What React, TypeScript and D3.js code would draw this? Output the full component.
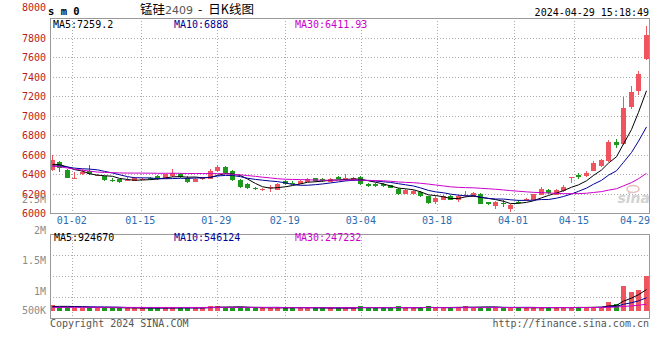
import * as d3 from 'd3';

// 锰硅2409 daily candles, 2023-12-27 .. 2024-04-29 (80 sessions)
const opens = [
  6450, 6530, 6443, 6362, 6410, 6440, 6390, 6380, 6345, 6350,
  6340, 6335, 6350, 6362, 6385, 6358, 6381, 6409, 6368, 6323,
  6355, 6358, 6438, 6478, 6440, 6348, 6300, 6266, 6243, 6262,
  6245, 6333, 6315, 6307, 6327, 6361, 6354, 6328, 6374, 6340,
  6340, 6370, 6307, 6307, 6305, 6290, 6256, 6205, 6200, 6221,
  6177, 6118, 6143, 6180, 6143, 6185, 6170, 6205, 6118, 6075,
  6110, 6045, 6122, 6138, 6140, 6190, 6245, 6190, 6230, 6360,
  6392, 6382, 6440, 6490, 6540, 6735, 6716, 7090, 7260, 7580,
];
const highs = [
  6596, 6540, 6460, 6425, 6460, 6494, 6410, 6385, 6360, 6352,
  6370, 6370, 6365, 6370, 6392, 6410, 6455, 6415, 6380, 6365,
  6370, 6460, 6494, 6485, 6450, 6355, 6310, 6270, 6260, 6290,
  6315, 6345, 6335, 6340, 6360, 6368, 6360, 6360, 6380, 6402,
  6375, 6380, 6312, 6310, 6310, 6295, 6262, 6250, 6245, 6230,
  6180, 6175, 6190, 6185, 6185, 6230, 6225, 6210, 6120, 6125,
  6136, 6095, 6135, 6160, 6205, 6272, 6255, 6250, 6290, 6378,
  6415, 6440, 6535, 6555, 6750, 6765, 7192, 7305, 7460, 7925,
];
const lows = [
  6440, 6425, 6360, 6358, 6390, 6395, 6385, 6335, 6325, 6310,
  6330, 6330, 6340, 6345, 6340, 6350, 6375, 6365, 6315, 6318,
  6345, 6350, 6430, 6405, 6335, 6265, 6250, 6240, 6235, 6220,
  6240, 6295, 6300, 6300, 6320, 6328, 6325, 6322, 6350, 6335,
  6335, 6290, 6275, 6275, 6275, 6260, 6190, 6195, 6190, 6170,
  6100, 6095, 6135, 6135, 6120, 6170, 6165, 6095, 6090, 6050,
  6068, 6016, 6100, 6130, 6135, 6185, 6205, 6185, 6225, 6315,
  6358, 6375, 6435, 6475, 6530, 6670, 6700, 7075, 7220, 7575,
];
const closes = [
  6545, 6470, 6368, 6368, 6425, 6405, 6400, 6340, 6338, 6318,
  6348, 6360, 6356, 6355, 6350, 6402, 6415, 6370, 6325, 6358,
  6360, 6436, 6476, 6415, 6345, 6275, 6258, 6247, 6248, 6268,
  6307, 6300, 6312, 6330, 6354, 6333, 6330, 6354, 6356, 6368,
  6368, 6307, 6280, 6280, 6280, 6266, 6197, 6245, 6228, 6177,
  6108, 6163, 6180, 6143, 6177, 6190, 6210, 6102, 6095, 6118,
  6103, 6090, 6115, 6145, 6200, 6255, 6210, 6240, 6268, 6374,
  6376, 6420, 6514, 6545, 6730, 6700, 7080, 7250, 7430, 7835,
];
const volumes = [
  260000, 190000, 170000, 150000, 150000, 160000, 140000, 150000, 130000, 140000,
  120000, 130000, 120000, 130000, 140000, 130000, 150000, 140000, 150000, 130000,
  120000, 230000, 200000, 160000, 150000, 160000, 140000, 130000, 120000, 140000,
  150000, 130000, 180000, 130000, 140000, 130000, 120000, 130000, 140000, 130000,
  120000, 230000, 140000, 120000, 130000, 130000, 200000, 130000, 120000, 130000,
  220000, 150000, 140000, 120000, 160000, 220000, 170000, 160000, 150000, 150000,
  140000, 150000, 140000, 130000, 140000, 150000, 160000, 140000, 150000, 140000,
  180000, 160000, 170000, 180000, 400000, 300000, 1070000, 830000, 910000, 1510000,
];
// the 29 sessions before the first candle, only feed the moving averages
const prevCloses = [
  6690, 6720, 6740, 6720, 6700, 6696, 6450, 6420, 6400, 6374,
  6380, 6360, 6370, 6390, 6400, 6395, 6398, 6390, 6350, 6367,
  6460, 6475, 6488, 6490, 6437, 6480, 6495, 6500, 6500,
];
const prevVolumes = [
  150000, 160000, 140000, 150000, 170000, 160000, 140000, 130000, 150000, 160000,
  140000, 150000, 130000, 140000, 160000, 150000, 140000, 130000, 150000, 140000,
  160000, 150000, 140000, 130000, 150000, 160000, 170000, 180000, 200000,
];

const tickIndex = [3, 12, 22, 31, 41, 51, 61, 69, 79];
const tickLabels = ['01-02', '01-15', '01-29', '02-19', '03-04', '03-18', '04-01', '04-15', '04-29'];
const priceTicks = [6000, 6200, 6400, 6600, 6800, 7000, 7200, 7400, 7600, 7800, 8000];
const volTicks = [2500000, 2000000, 1500000, 1000000, 500000];
const volTickLabels = ['2.5M', '2M', '1.5M', '1M', '500K'];
const maPeriods = [5, 10, 30];
const maColors = ['#000000', '#000099', '#cc00cc'];
const priceMaText = ['MA5:7259.2', 'MA10:6888', 'MA30:6411.93'];
const volMaText = ['MA5:924670', 'MA10:546124', 'MA30:247232'];

const UP = '#f0555f';
const DOWN = '#1d9a1d';
const GRID = '#aaaaaa';

const movingAvg = (hist: number[], cur: number[], n: number) => {
  const all = hist.concat(cur);
  return cur.map((_, i) => {
    const end = hist.length + i;
    return d3.mean(all.slice(end - n + 1, end + 1)) as number;
  });
};

export default function App() {
  const N = closes.length;
  const left = 50, right = 649;
  const top = 18, bottom = 213;
  const vTop = 234, vBottom = 318;

  const x = d3.scaleBand<number>().domain(d3.range(N)).range([48.5, 650.1]);
  const cx = (i: number) => Math.floor((x(i) as number) + x.step() / 2) + 0.5;
  // sina places the date grid slightly wider than the candle bands
  const gx = d3.scaleLinear().domain([0, N - 1]).range([49.9, 651]);
  const yP = d3.scaleLinear().domain([6000, 8000]).range([bottom + 0.5, top + 0.5]);
  const yV = d3.scaleLinear().domain([0, 2000000]).range([311, 264.6]);
  const yVLabel = d3.scaleLinear().domain([1000000, 2500000]).range([291, 199.5]);

  const priceLine = d3.line<number>().x((_, i) => cx(i)).y((v) => yP(v));
  const volLine = d3.line<number>().x((_, i) => cx(i)).y((v) => yV(v));

  const priceMA = maPeriods.map((n) => movingAvg(prevCloses, closes, n));
  const volMA = maPeriods.map((n) => movingAvg(prevVolumes, volumes, n));

  const vGrid = tickIndex.map((i) => Math.floor(gx(i)) + 0.5).filter((v) => v < right);

  return (
    <svg
      width={660}
      height={360}
      style={{ position: 'absolute', left: 0, top: 0, background: '#fff' }}
      fontFamily="'DejaVu Sans Mono', monospace"
      fontSize={10}
    >
      <defs>
        <clipPath id="clipP">
          <rect x={left} y={top} width={right - left + 1} height={bottom - top + 1} />
        </clipPath>
        <clipPath id="clipV">
          <rect x={left} y={vTop} width={right - left + 1} height={vBottom - vTop + 1} />
        </clipPath>
      </defs>

      {/* header */}
      <text x={48} y={15} fontWeight="bold" fontSize={10.5} fill="#000">s m 0</text>
      <text x={140} y={13.5} fontFamily="'Noto Sans CJK SC', sans-serif" fontSize={12.5} fill="#000">
        锰硅
        <tspan fontFamily="'DejaVu Sans', sans-serif" fontSize={11} fill="#555">2409</tspan>
        <tspan dx={5}>-</tspan>
        <tspan dx={6}>日K线图</tspan>
      </text>
      <text x={649} y={15.5} textAnchor="end" fill="#000">2024-04-29 15:18:49</text>

      {/* grid */}
      <g stroke={GRID} strokeDasharray="1,2" shapeRendering="crispEdges">
        {priceTicks.slice(1, -1).map((v) => (
          <line key={v} x1={left} x2={right} y1={Math.floor(yP(v)) + 0.5} y2={Math.floor(yP(v)) + 0.5} />
        ))}
        {vGrid.map((gxv) => (
          <line key={'p' + gxv} x1={gxv} x2={gxv} y1={top} y2={bottom} />
        ))}
        {[1, 2, 3].map((k) => {
          const yy = vTop + 0.5 + k * 21;
          return <line key={'vh' + k} x1={left} x2={right} y1={yy} y2={yy} />;
        })}
        {vGrid.map((gxv) => (
          <line key={'v' + gxv} x1={gxv} x2={gxv} y1={vTop} y2={vBottom} />
        ))}
      </g>

      {/* sina watermark */}
      <g opacity={0.9}>
        <ellipse cx={633} cy={189} rx={6} ry={3.5} fill="none" stroke="#e8b4b4" strokeWidth={1.5} />
        <text x={650} y={203} textAnchor="end" fontFamily="'DejaVu Sans', sans-serif" fontStyle="italic" fontWeight="bold" fontSize={14} fill="#cfcfcf">sina</text>
      </g>

      {/* candles */}
      <g clipPath="url(#clipP)" shapeRendering="crispEdges">
        {closes.map((c, i) => {
          const o = opens[i];
          const col = c >= o ? UP : DOWN;
          const t = Math.round(yP(Math.max(o, c)));
          const b = Math.round(yP(Math.min(o, c)));
          const px = cx(i);
          return (
            <g key={i}>
              <line x1={px} x2={px} y1={Math.round(yP(highs[i]))} y2={Math.round(yP(lows[i]))} stroke={col} />
              <rect x={px - 2.5} y={t} width={5} height={Math.max(1, b - t)} fill={col} />
            </g>
          );
        })}
      </g>
      <g clipPath="url(#clipP)" fill="none" strokeWidth={1}>
        {priceMA.map((s, k) => (
          <path key={k} d={priceLine(s) ?? ''} stroke={maColors[k]} />
        ))}
      </g>

      {/* volume */}
      <g clipPath="url(#clipV)" shapeRendering="crispEdges">
        {volumes.map((v, i) => {
          const col = closes[i] >= opens[i] ? UP : DOWN;
          const t = Math.round(yV(v));
          return <rect key={i} x={cx(i) - 2.5} y={t} width={5} height={Math.max(1, Math.round(yV(0)) - t)} fill={col} />;
        })}
      </g>
      <g clipPath="url(#clipV)" fill="none" strokeWidth={1}>
        {volMA.map((s, k) => (
          <path key={k} d={volLine(s) ?? ''} stroke={maColors[k]} />
        ))}
      </g>

      {/* frames */}
      <g fill="none" stroke="#999" shapeRendering="crispEdges">
        <rect x={left + 0.5} y={top + 0.5} width={right - left} height={bottom - top} />
        <rect x={left + 0.5} y={vTop + 0.5} width={right - left} height={vBottom - vTop} />
      </g>

      {/* price axis */}
      {priceTicks.map((v, k) => (
        <text
          key={v}
          x={46}
          y={k === priceTicks.length - 1 ? yP(v) - 8 : yP(v) + 3.5}
          textAnchor="end"
          fill="#b81c1c"
        >
          {v}
        </text>
      ))}

      {/* volume axis */}
      {volTicks.map((v, k) => (
        <text key={v} x={46} y={Math.min(yVLabel(v), 310) + 3.5} textAnchor="end" fill="#8c8c8c">
          {volTickLabels[k]}
        </text>
      ))}

      {/* date axis */}
      {tickIndex.map((i, k) => {
        const px = gx(i) - 1;
        const atEnd = px + 15 > 650;
        return (
          <text
            key={i}
            x={atEnd ? 650 : px}
            y={223.5}
            textAnchor={atEnd ? 'end' : 'middle'}
            fill="#2a6db0"
          >
            {tickLabels[k]}
          </text>
        );
      })}

      {/* MA legends */}
      {priceMaText.map((t, k) => (
        <text key={t} x={[53, 174, 295][k]} y={27.5} fill={maColors[k]}>{t}</text>
      ))}
      {volMaText.map((t, k) => (
        <text key={t} x={[54, 174, 295][k]} y={241.3} fill={maColors[k]}>{t}</text>
      ))}

      {/* footer */}
      <text x={50} y={327} fill="#555">Copyright 2024 SINA.COM</text>
      <text x={649} y={327} textAnchor="end" fill="#555">http://finance.sina.com.cn</text>
    </svg>
  );
}
